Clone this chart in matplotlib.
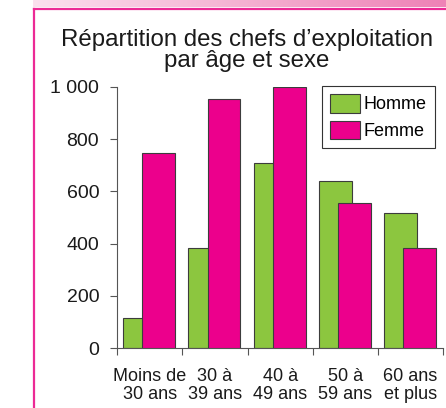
import numpy as np
import matplotlib.pyplot as plt
from matplotlib.lines import Line2D
from matplotlib.colors import LinearSegmentedColormap

categories = ['Moins de\n30 ans', '30 à\n39 ans', '40 à\n49 ans', '50 à\n59 ans', '60 ans\net plus']
homme = [117, 382, 708, 641, 517]
femme = [745, 952, 997, 554, 382]
yticks = [0, 200, 400, 600, 800, 1000]
ytick_labels = ['0', '200', '400', '600', '800', '1 000']

plt.rcParams['font.family'] = ['Liberation Sans', 'DejaVu Sans']

W, H = 446, 408
fig = plt.figure(figsize=(W / 100, H / 100), dpi=100)

# bandeau dégradé + cadre rose
band = fig.add_axes([33 / W, 1 - 7 / H, 1 - 33 / W, 7 / H])
cmap = LinearSegmentedColormap.from_list('bande', ['#fbe0ee', '#ee82b6'])
band.imshow(np.linspace(0, 1, 256).reshape(1, -1), aspect='auto', cmap=cmap)
band.axis('off')
fig.add_artist(Line2D([33.5 / W, 33.5 / W], [0, 1 - 8.5 / H], color='#ec2a95', lw=1.6))
fig.add_artist(Line2D([33.5 / W, 1], [1 - 8.5 / H, 1 - 8.5 / H], color='#ec2a95', lw=1.6))

ax = fig.add_axes([117.3 / W, 1 - 348.3 / H, (443 - 117.3) / W, (348.3 - 86.7) / H])

x = np.arange(len(categories))
largeur = 0.505
ax.bar(x - 0.155, homme, largeur, color='#8cc63f', edgecolor='#3c3c3c', linewidth=0.8, label='Homme', zorder=2)
ax.bar(x + 0.138, femme, largeur, color='#ec008c', edgecolor='#3c3c3c', linewidth=0.8, label='Femme', zorder=3)

ax.set_xlim(-0.5, len(categories) - 0.5)
ax.set_ylim(0, 1000)
ax.set_yticks(yticks)
ax.set_yticklabels(ytick_labels, fontsize=14, color='#1a1a1a')

# graduations entre les groupes, étiquettes au centre
ax.set_xticks(np.arange(len(categories) + 1) - 0.5)
ax.set_xticklabels([])
ax.set_xticks(x, minor=True)
ax.set_xticklabels(categories, minor=True, fontsize=13, color='#1a1a1a', linespacing=1.08)
ax.tick_params(axis='x', which='minor', length=0, pad=14)
ax.tick_params(axis='x', which='major', length=5, width=0.8, color='#555555')
ax.tick_params(axis='y', length=5, width=0.8, color='#555555', pad=8)

for s in ['top', 'right']:
    ax.spines[s].set_visible(False)
for s in ['left', 'bottom']:
    ax.spines[s].set_color('#555555')
    ax.spines[s].set_linewidth(0.8)

leg = ax.legend(loc='upper right', bbox_to_anchor=(435 / W, 1 - 86 / H), bbox_transform=fig.transFigure,
                borderaxespad=0, fontsize=13, fancybox=False, framealpha=1, edgecolor='#333333',
                handlelength=1.66, handleheight=1.2, handletextpad=0.2, labelspacing=0.4, borderpad=0.45)
leg.get_frame().set_linewidth(0.8)

fig.text(247 / W, 1 - 67.5 / H, 'Répartition des chefs d’exploitation\npar âge et sexe',
         ha='center', va='baseline', fontsize=17.3, color='#1a1a1a', linespacing=0.98)

fig.savefig('out.png', dpi=100)
